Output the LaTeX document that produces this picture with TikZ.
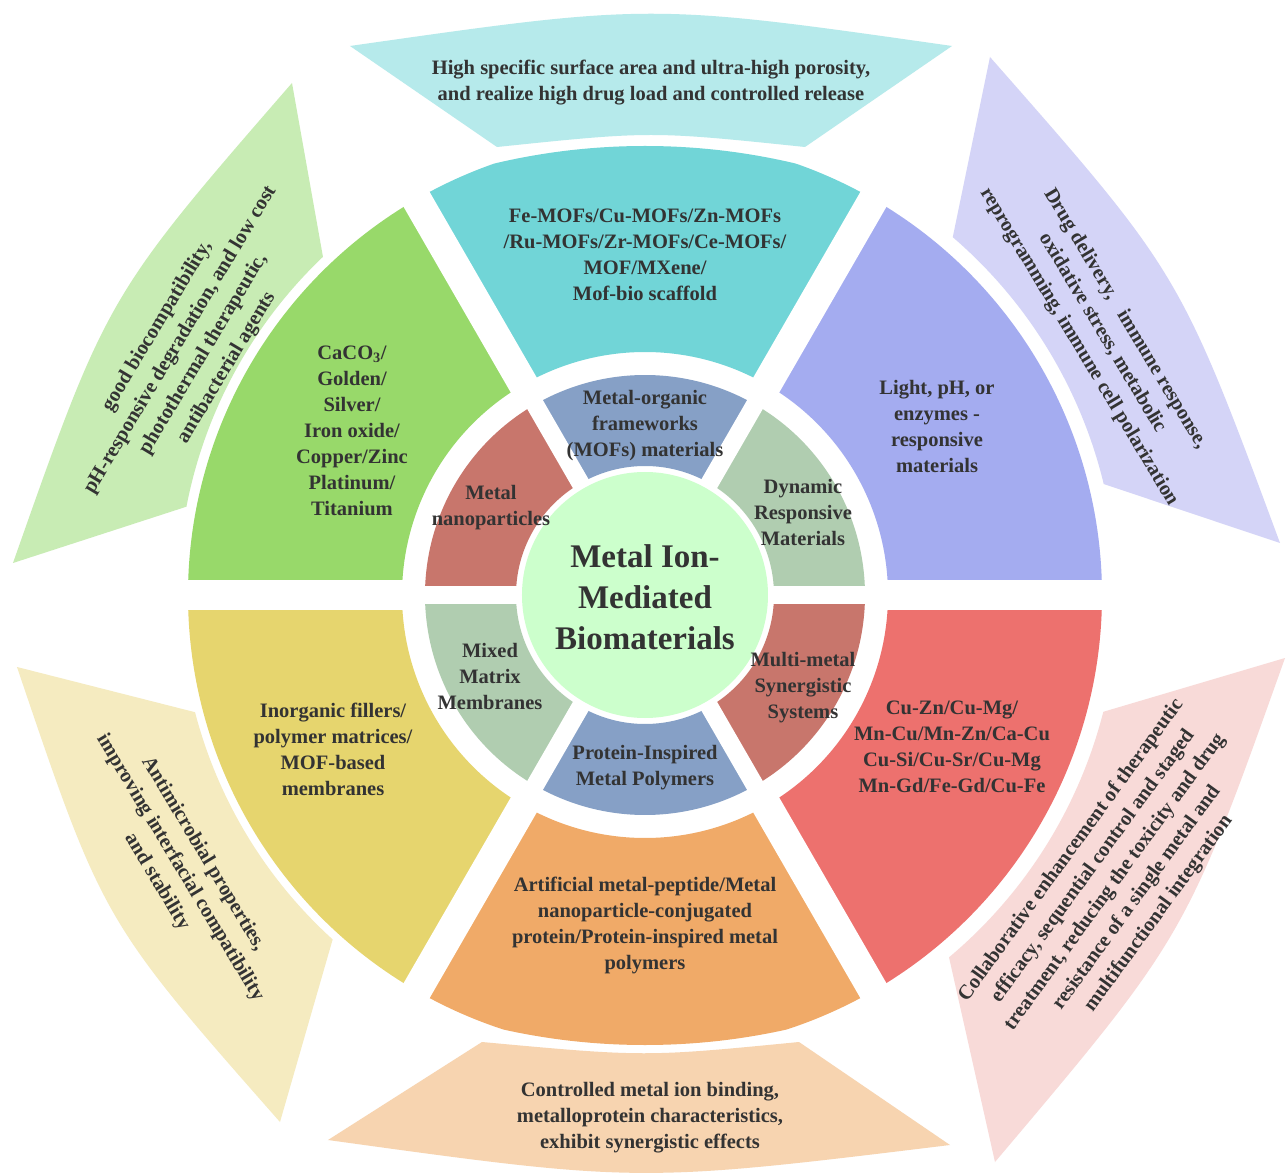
\documentclass[tikz,border=0pt]{standalone}
\usepackage{fontspec}
\setmainfont{Liberation Serif}
\definecolor{ink}{HTML}{333333}
\definecolor{core}{HTML}{CCFFCC}
\definecolor{slate}{HTML}{86A0C6}
\definecolor{rust}{HTML}{C8766C}
\definecolor{sage}{HTML}{B0CDB0}
\definecolor{leaf}{HTML}{98D96A}
\definecolor{teal}{HTML}{71D5D7}
\definecolor{periwinkle}{HTML}{A4ACF0}
\definecolor{coral}{HTML}{ED716E}
\definecolor{apricot}{HTML}{F0AA68}
\definecolor{mustard}{HTML}{E6D56E}
\definecolor{leafpale}{HTML}{C8ECB4}
\definecolor{tealpale}{HTML}{B6EAEB}
\definecolor{lavender}{HTML}{D4D4F7}
\definecolor{pinkpale}{HTML}{F8DAD8}
\definecolor{apricotpale}{HTML}{F7D4B0}
\definecolor{mustardpale}{HTML}{F5EBC0}
% annular sector: colour, start angle, end angle, inner radius, outer radius
\newcommand\ringsector[5]{%
  \fill[#1] (#2:#4) -- (#2:#5) arc[start angle=#2, end angle=#3, radius=#5]
    -- (#3:#4) arc[start angle=#3, end angle=#2, radius=#4] -- cycle;}
\begin{document}
\begin{tikzpicture}[x=1pt,y=1pt,
  label/.style={font=\bfseries\fontsize{20.5}{26}\selectfont, text=ink, align=center, inner sep=0pt},
  slanted/.style={label, font=\bfseries\fontsize{20.5}{27}\selectfont},
  title/.style={font=\bfseries\fontsize{33}{41}\selectfont, text=ink, align=center, inner sep=0pt}]
\useasboundingbox (-645,-578) rectangle (641,595);
\fill[white] (-645,-578) rectangle (641,595);

% inner ring
\ringsector{slate}{60}{120}{129}{220}
\ringsector{rust}{120}{180}{129}{220}
\ringsector{sage}{180}{240}{129}{220}
\ringsector{slate}{240}{300}{129}{220}
\ringsector{rust}{300}{360}{129}{220}
\ringsector{sage}{0}{60}{129}{220}

% middle ring
\begin{scope}
  \clip (0,-201) circle (650);
  \ringsector{teal}{60}{120}{243}{457}
\end{scope}
\ringsector{leaf}{120}{180}{243}{457}
\ringsector{mustard}{180}{240}{243}{457}
\begin{scope}
  \clip (0,200) circle (650);
  \ringsector{apricot}{240}{300}{243}{457}
\end{scope}
\ringsector{coral}{300}{360}{243}{457}
\ringsector{periwinkle}{0}{60}{243}{457}

% white spokes separating the sectors
\foreach \a in {0,60,...,300} {
  \draw[white, line width=18] (0,0) -- (\a:232);
  \draw[white, line width=30] (\a:232) -- (\a:462);
}

% central disc
\fill[core] (0,0) circle (123);

% outer band
\fill[tealpale] (-295,549) .. controls (6,592) .. (307,549)
  -- (160,448) .. controls (6,464) .. (-148,448) -- cycle;
\fill[leafpale] (-353,512) -- (133.6:467) arc[start angle=133.6, end angle=169.1, radius=467]
  -- (-632,32) .. controls (-538,299) .. (-353,512) -- cycle;
\fill[lavender] (345,538) -- (49.3:472) arc[start angle=49.3, end angle=13.6, radius=472]
  -- (635,52) .. controls (535,322) .. (345,538) -- cycle;
\fill[mustardpale] (-628,-72) -- (194.6:465) arc[start angle=194.6, end angle=227.8, radius=465]
  -- (-365,-527) .. controls (-542,-326) .. (-628,-72) -- cycle;
\fill[pinkpale] (640,-63) -- (-14.3:473) arc[start angle=-14.3, end angle=-50, radius=473]
  -- (350,-567) .. controls (541,-341) .. (640,-63) -- cycle;
\fill[apricotpale] (-163,-447) .. controls (0,-462) .. (154,-447)
  -- (305,-550) .. controls (-6,-588) .. (-317,-545) -- cycle;

% labels
\node[title] (hub) at (0,-2) {Metal Ion-\\Mediated\\Biomaterials};

\node[label] (mof) at (0,169) {Metal-organic\\frameworks\\(MOFs) materials};
\node[label] (nano) at (-154,87) {Metal\\nanoparticles};
\node[label] (dyn) at (158,83) {Dynamic\\Responsive\\Materials};
\node[label] (mmm) at (-155,-81) {Mixed\\Matrix\\Membranes};
\node[label] (multi) at (158,-93) {Multi-metal\\Synergistic\\Systems};
\node[label] (prot) at (0,-173) {Protein-Inspired\\Metal Polymers};

\node[label] (mofex) at (0,340) {Fe-MOFs/Cu-MOFs/Zn-MOFs\\/Ru-MOFs/Zr-MOFs/Ce-MOFs/\\MOF/MXene/\\Mof-bio scaffold};
\node[label] (nanoex) at (-293,164) {CaCO\textsubscript{3}/\\Golden/\\Silver/\\Iron oxide/\\Copper/Zinc\\Platinum/\\Titanium};
\node[label] (dynex) at (292,169) {Light, pH, or\\enzymes -\\responsive\\materials};
\node[label] (mmmex) at (-312,-154) {Inorganic fillers/\\polymer matrices/\\MOF-based\\membranes};
\node[label] (multiex) at (307,-152) {Cu-Zn/Cu-Mg/\\Mn-Cu/Mn-Zn/Ca-Cu\\Cu-Si/Cu-Sr/Cu-Mg\\Mn-Gd/Fe-Gd/Cu-Fe};
\node[label] (protex) at (0,-330) {Artificial metal-peptide/Metal\\nanoparticle-conjugated\\protein/Protein-inspired metal\\polymers};

\node[label] (mofuse) at (6,512) {High specific surface area and ultra-high porosity,\\and realize high drug load and controlled release};
\node[slanted, rotate=59] (nanouse) at (-453,248) {good biocompatibility,\\pH-responsive degradation, and low cost\\photothermal therapeutic,\\antibacterial agents};
\node[slanted, rotate=-59] (dynuse) at (457,262) {Drug delivery,\hspace{0.8em}immune response,\\oxidative stress, metabolic\\reprogramming, immune cell polarization};
\node[slanted, rotate=-59] (mmmuse) at (-465,-273) {Antimicrobial properties,\\improving interfacial compatibility\\and stability};
\node[slanted, rotate=54] (multiuse) at (470,-287) {Collaborative enhancement of therapeutic\\efficacy, sequential control and staged\\treatment, reducing the toxicity and drug\\resistance of a single metal and\\multifunctional integration};
\node[label] (protuse) at (5,-523) {Controlled metal ion binding,\\metalloprotein characteristics,\\exhibit synergistic effects};
\end{tikzpicture}
\end{document}
